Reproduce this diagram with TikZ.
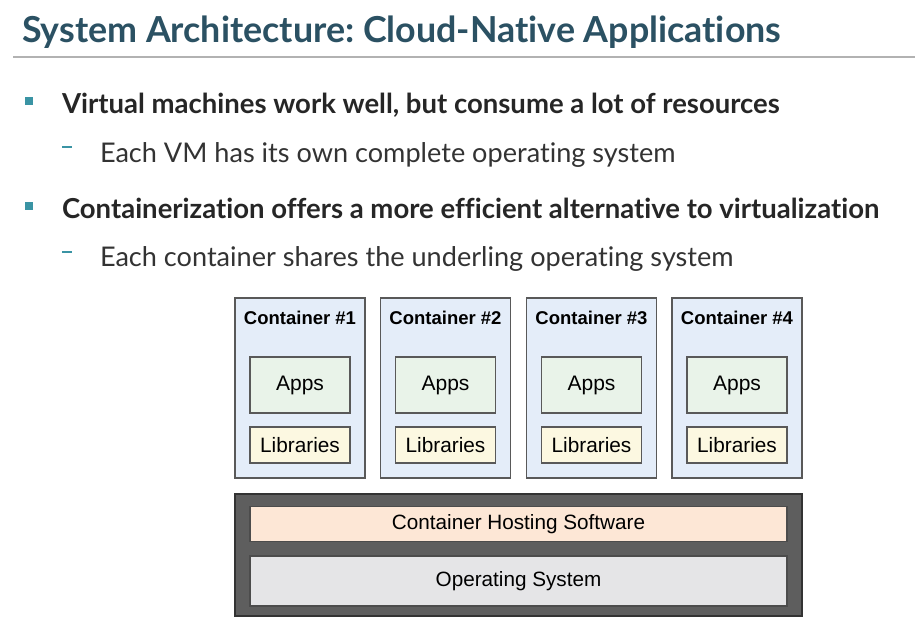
\documentclass[tikz,border=0pt]{standalone}
\usepackage{fontspec}
\setmainfont{Lato}[Ligatures=NoCommon]
\newfontfamily\diagfont{Liberation Sans}
\usepackage{xcolor}
\usetikzlibrary{positioning}
\frenchspacing

\definecolor{titleteal}{HTML}{2B5163}
\definecolor{bulletteal}{HTML}{3A94A4}
\definecolor{ctrblue}{HTML}{E4EDF9}
\definecolor{appgreen}{HTML}{E9F3E9}
\definecolor{libyellow}{HTML}{FCF8E1}
\definecolor{hostpeach}{HTML}{FDE7D6}
\definecolor{osgray}{HTML}{E5E5E7}
\definecolor{basegray}{HTML}{5E5E5E}

\begin{document}
\begin{tikzpicture}[
    x=1pt, y=-1pt,
    every node/.style={inner sep=0pt, outer sep=0pt},
    heading/.style={anchor=base west, font=\fontsize{35.8}{40}\selectfont\bfseries, text=titleteal},
    point/.style={anchor=base west, font=\fontsize{27.5}{30}\selectfont\bfseries, text=black!85},
    subpoint/.style={anchor=base west, font=\fontsize{27.1}{30}\selectfont, text=black!80},
    square/.style={fill=bulletteal, minimum size=8pt},
    dashmark/.style={fill=bulletteal, minimum width=10pt, minimum height=2pt},
    ctr/.style={draw=black!65, line width=1.2pt, fill=ctrblue, minimum width=130pt, minimum height=180pt},
    ctrname/.style={font=\diagfont\fontsize{18.5}{20}\selectfont\bfseries},
    apps/.style={draw=black!65, line width=1.2pt, fill=appgreen, minimum width=100pt, minimum height=56pt, font=\diagfont\fontsize{21}{22}\selectfont},
    libs/.style={draw=black!65, line width=1.2pt, fill=libyellow, minimum width=100pt, minimum height=36pt, font=\diagfont\fontsize{20.8}{22}\selectfont},
    layer/.style={draw=black!70, line width=1.2pt, minimum width=537pt, font=\diagfont\fontsize{20.7}{22}\selectfont}
]
    \useasboundingbox[fill=white] (0,0) rectangle (915,634);

    % Title
    \node[heading] (title) at (22,43) {System Architecture: Cloud-Native Applications};
    \draw[black!30, line width=2pt] (13,57) -- (915,57);

    % Bullets
    \node[square] (b1) at (29,101) {};
    \node[point] (p1) at (62,113) {Virtual machines work well, but consume a lot of resources};
    \node[dashmark] (d1) at (67,147) {};
    \node[subpoint] (s1) at (100,162) {Each VM has its own complete operating system};
    \node[square] (b2) at (29,206) {};
    \node[point] (p2) at (62,218) {Containerization offers a more efficient alternative to virtualization};
    \node[dashmark] (d2) at (67,252) {};
    \node[subpoint] (s2) at (100,266) {Each container shares the underling operating system};

    % Containers
    \node[ctr] (c1) at (300,388) {};
    \node[ctr] (c2) at (445.5,388) {};
    \node[ctr] (c3) at (591.5,388) {};
    \node[ctr] (c4) at (737,388) {};

    \node[ctrname, below=13pt of c1.north] (n1) {Container \#1};
    \node[ctrname, below=13pt of c2.north] (n2) {Container \#2};
    \node[ctrname, below=13pt of c3.north] (n3) {Container \#3};
    \node[ctrname, below=13pt of c4.north] (n4) {Container \#4};

    \node[libs, above=15pt of c1.south] (l1) {Libraries};
    \node[libs, above=15pt of c2.south] (l2) {Libraries};
    \node[libs, above=15pt of c3.south] (l3) {Libraries};
    \node[libs, above=15pt of c4.south] (l4) {Libraries};

    \node[apps, above=14pt of l1] (a1) {Apps};
    \node[apps, above=14pt of l2] (a2) {Apps};
    \node[apps, above=14pt of l3] (a3) {Apps};
    \node[apps, above=14pt of l4] (a4) {Apps};

    % Host stack
    \node[draw=black!80, line width=1.2pt, fill=basegray, minimum width=567pt, minimum height=122pt] (base) at (518.5,555) {};
    \node[layer, fill=hostpeach, minimum height=35pt] (host) at (518.5,524) {Container Hosting Software};
    \node[layer, fill=osgray, minimum height=50pt] (os) at (518.5,581) {Operating System};

\end{tikzpicture}
\end{document}
